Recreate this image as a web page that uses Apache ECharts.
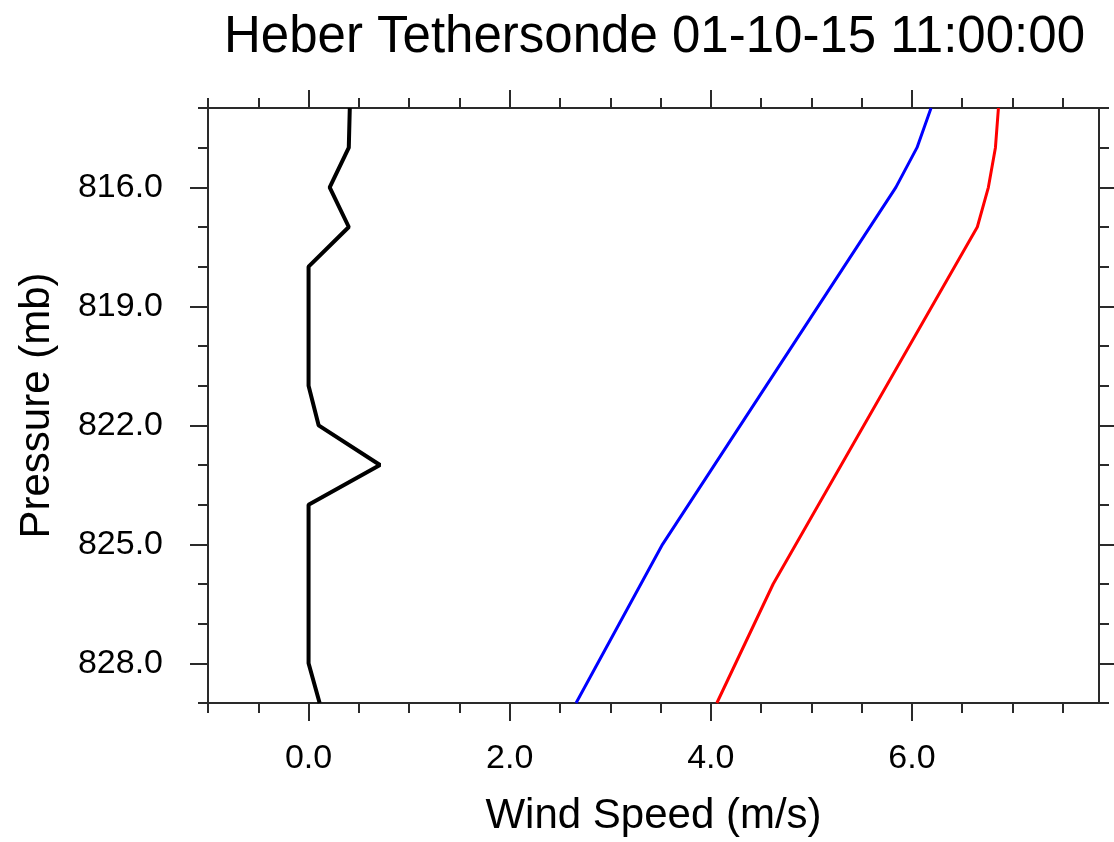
<!DOCTYPE html>
<html>
<head>
<meta charset="utf-8">
<script src="https://cdn.jsdelivr.net/npm/echarts@6/dist/echarts.min.js"></script>
<style>html,body{margin:0;padding:0;background:#fff;}#c{width:1114px;height:842px;}</style>
</head>
<body>
<div id="c"></div>
<script>
// ---- data ----
const titleText = 'Heber Tethersonde 01-10-15 11:00:00';
const xName = 'Wind Speed (m/s)';
const yName = 'Pressure (mb)';

const blackPressure = [814, 815, 816, 817, 818, 819, 820, 821, 822, 823, 824, 825, 826, 827, 828, 829];
const blackSpeed    = [0.41, 0.40, 0.21, 0.40, 0.00, 0.00, 0.00, 0.00, 0.10, 0.71, 0.00, 0.00, 0.00, 0.00, 0.00, 0.11];

const bluePressure = [814, 815, 816, 825, 829];
const blueSpeed    = [6.19, 6.05, 5.84, 3.52, 2.66];

const redPressure = [814, 815, 816, 817, 826, 829];
const redSpeed    = [6.86, 6.83, 6.76, 6.65, 4.62, 4.06];

const xMin = -1.0, xMax = 7.86;
const yMin = 814, yMax = 829;
const xMajorTicks = [0, 2, 4, 6];
const xMinorTicks = [-1, -0.5, 0, 0.5, 1, 1.5, 2, 2.5, 3, 3.5, 4, 4.5, 5, 5.5, 6, 6.5, 7, 7.5];
const yMajorTicks = [816, 819, 822, 825, 828];
const yMinorTicks = [814, 815, 816, 817, 818, 819, 820, 821, 822, 823, 824, 825, 826, 827, 828, 829];

// ---- build ----
const pairs = (xs, ys) => xs.map((x, i) => [x, ys[i]]);
const axisColor = '#2a2a2a';
const font = '"Liberation Sans", Arial, Helvetica, sans-serif';

function xAx(pos, ticks, len, withLine, withLabel) {
  return {
    type: 'value', min: xMin, max: xMax, position: pos,
    axisLine: { show: withLine, onZero: false, lineStyle: { color: axisColor, width: 2 } },
    axisTick: { show: true, customValues: ticks, length: len, lineStyle: { color: axisColor, width: 2 } },
    axisLabel: withLabel ? { show: true, customValues: ticks, formatter: v => v.toFixed(1), fontSize: 34, color: '#000', fontFamily: font, margin: 39 } : { show: false },
    splitLine: { show: false },
    name: withLabel ? xName : '',
    nameLocation: 'middle', nameGap: 92,
    nameTextStyle: { fontSize: 42, color: '#000', fontFamily: font }
  };
}
function yAx(pos, ticks, len, withLine, withLabel) {
  return {
    type: 'value', min: yMin, max: yMax, inverse: true, position: pos,
    axisLine: { show: withLine, onZero: false, lineStyle: { color: axisColor, width: 2 } },
    axisTick: { show: true, customValues: ticks, length: len, lineStyle: { color: axisColor, width: 2 } },
    axisLabel: withLabel ? { show: true, customValues: ticks, formatter: v => v.toFixed(1), fontSize: 34, color: '#000', fontFamily: font, margin: 45 } : { show: false },
    splitLine: { show: false },
    name: withLabel ? yName : '',
    nameLocation: 'middle', nameGap: 150, nameRotate: 90,
    nameTextStyle: { fontSize: 42, color: '#000', fontFamily: font }
  };
}

const chart = echarts.init(document.getElementById('c'), null, { renderer: 'canvas' });
chart.setOption({
  animation: false,
  backgroundColor: '#fff',
  title: {
    text: titleText, left: 219, top: 7,
    textStyle: { fontSize: 51, fontWeight: 'normal', color: '#000', fontFamily: font }
  },
  grid: { left: 208, top: 108, right: 15, bottom: 138, containLabel: false },
  xAxis: [
    xAx('bottom', xMajorTicks, 18, true, true),
    xAx('bottom', xMinorTicks, 10, false, false),
    xAx('top', xMajorTicks, 18, true, false),
    xAx('top', xMinorTicks, 10, false, false)
  ],
  yAxis: [
    yAx('left', yMajorTicks, 18, true, true),
    yAx('left', yMinorTicks, 10, false, false),
    yAx('right', yMajorTicks, 18, true, false),
    yAx('right', yMinorTicks, 10, false, false)
  ],
  series: [
    { type: 'line', xAxisIndex: 0, yAxisIndex: 0, data: pairs(blackSpeed, blackPressure), showSymbol: false, lineStyle: { color: '#000', width: 4 }, itemStyle: { color: '#000' } },
    { type: 'line', xAxisIndex: 0, yAxisIndex: 0, data: pairs(blueSpeed, bluePressure), showSymbol: false, lineStyle: { color: '#0000ff', width: 3 }, itemStyle: { color: '#0000ff' } },
    { type: 'line', xAxisIndex: 0, yAxisIndex: 0, data: pairs(redSpeed, redPressure), showSymbol: false, lineStyle: { color: '#ff0000', width: 3 }, itemStyle: { color: '#ff0000' } }
  ]
});
</script>
</body>
</html>
